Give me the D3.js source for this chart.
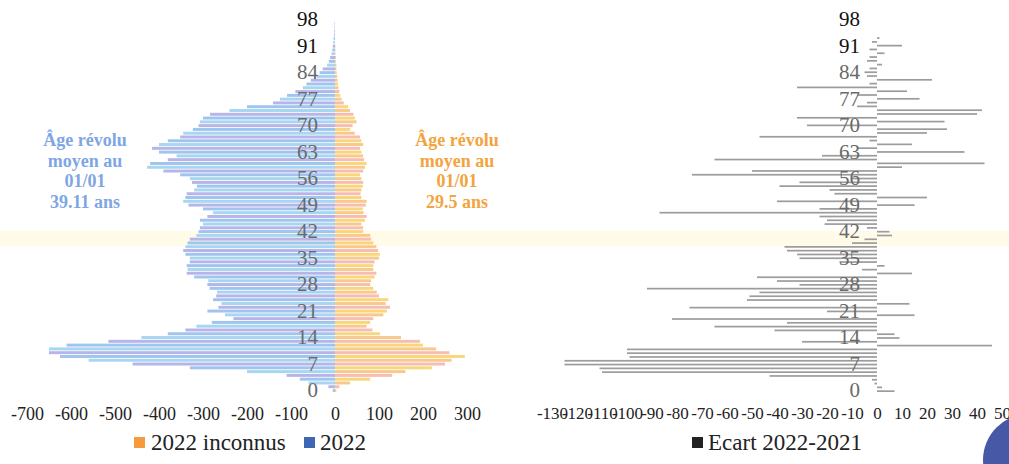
<!DOCTYPE html>
<html>
<head>
<meta charset="utf-8">
<script src="https://cdn.jsdelivr.net/npm/d3@7/dist/d3.min.js"></script>
<style>
  html, body { margin: 0; padding: 0; background: #fff; }
  svg { display: block; }
  text { font-family: "Liberation Serif", "Times New Roman", serif; }
</style>
</head>
<body>
<svg id="chart" width="1009" height="464"></svg>
<script>
// ---------- data ----------
const ages = d3.range(0, 101);
const ageTicks = [0, 7, 14, 21, 28, 35, 42, 49, 56, 63, 70, 77, 84, 91, 98];
const leftTicks = [-700, -600, -500, -400, -300, -200, -100, 0, 100, 200, 300];
const rightTicks = [-130, -120, -110, -100, -90, -80, -70, -60, -50, -40, -30, -20, -10, 0, 10, 20, 30, 40, 50];

// 2022 (left, negative side), age 0..100
const pop2022 = [
  -5, -15, -60, -80, -110, -200, -330, -460, -560, -625,
  -650, -650, -610, -515, -440, -380, -340, -315, -280, -231,
  -250, -290, -265, -258, -277, -270, -268, -285, -290, -288,
  -320, -337, -335, -337, -330, -330, -340, -345, -340, -335,
  -330, -315, -310, -307, -300, -307, -290, -277, -300, -333,
  -345, -340, -337, -320, -314, -325, -330, -352, -390, -427,
  -420, -380, -360, -400, -416, -400, -380, -352, -345, -323,
  -310, -307, -300, -284, -240, -200, -141, -125, -109, -90,
  -73, -65, -55, -41, -35, -28, -18, -14, -11, -8,
  -6, -5, -4, -3, -2, -2, -1, -1, 0, 0, 0
];
// 2022 inconnus (right side of left chart), age 0..100
const inconnus2022 = [
  3, 10, 34, 80, 130, 160, 220, 250, 265, 295,
  260, 230, 200, 193, 150, 102, 85, 72, 80, 87,
  110, 118, 125, 115, 121, 100, 95, 87, 80, 82,
  90, 94, 87, 87, 90, 100, 102, 98, 94, 87,
  82, 80, 64, 64, 60, 68, 72, 65, 63, 70,
  72, 60, 58, 60, 63, 64, 60, 57, 64, 68,
  72, 66, 64, 60, 57, 64, 60, 57, 45, 34,
  40, 49, 45, 42, 34, 30, 20, 15, 12, 10,
  8, 7, 6, 5, 4, 3, 3, 2, 2, 1,
  1, 1, 0, 0, 0, 0, 0, 0, 0, 0, 0
];
// Ecart 2022-2021, age 0..100
const ecart = [
  7, 2, -1, -2, -43, -110, -111, -125, -125, -99,
  -100, -100, 46, -30, 9, 7, -41, -65, -36, -82,
  15, -20, -75, 13, -52, -51, -47, -92, -31, -40,
  -48, 14, -6, 3, -15, -31, -32, -36, -37, -10,
  -5, 6, 5, -4, -21, -20, -23, -87, -23, 15,
  -40, 20, -17, -19, -39, -31, -10, -74, -50, 10,
  43, -65, -22, 35, -8, 14, -3, -47, 20, 28,
  -28, 27, -32, 40, 42, -8, -4, 17, -8, 12,
  -32, -3, 22, -4, -5, -3, 2, -4, -3, 3,
  -3, 10, -2, 1, 0, 0, 0, 0, 0, 0, 0
];
const leftNote = ["Âge révolu", "moyen au", "01/01", "39.11 ans"];
const rightNote = ["Âge révolu", "moyen au", "01/01", "29.5 ans"];

// ---------- drawing ----------
const svg = d3.select("#chart");

// scan artefacts
svg.append("rect").attr("x", 0).attr("y", 231).attr("width", 1009).attr("height", 15).attr("fill", "#fffbe8");

const y = d3.scaleBand().domain(ages).range([392, 392 - 101 * 3.776]).paddingInner(0.22);
const yR = d3.scaleBand().domain(ages).range([392, 392 - 101 * 3.776]).paddingInner(0.55);
const xL = d3.scaleLinear().domain([-700, 300]).range([27, 467]);
const xR = d3.scaleLinear().domain([-130, 50]).range([552, 1002]);

const blueCycle = ["#9fc4ef", "#b7b4ea", "#a6d6f0"];
const orangeCycle = ["#f9d67a", "#f7bdb3", "#f8c98a"];

// left chart bars
const gL = svg.append("g");
gL.selectAll(".b").data(ages).join("rect")
  .attr("x", d => xL(Math.min(0, pop2022[d])))
  .attr("width", d => Math.abs(xL(pop2022[d]) - xL(0)))
  .attr("y", d => y(d)).attr("height", y.bandwidth())
  .attr("fill", (d, i) => blueCycle[i % 3]);
gL.selectAll(".o").data(ages).join("rect")
  .attr("x", xL(0))
  .attr("width", d => xL(inconnus2022[d]) - xL(0))
  .attr("y", d => y(d)).attr("height", y.bandwidth())
  .attr("fill", (d, i) => orangeCycle[i % 3]);

// right chart bars
const gR = svg.append("g");
gR.selectAll("rect").data(ages).join("rect")
  .attr("x", d => xR(Math.min(0, ecart[d])))
  .attr("width", d => Math.abs(xR(ecart[d]) - xR(0)))
  .attr("y", d => yR(d)).attr("height", yR.bandwidth())
  .attr("fill", "#9c9c9c");

// age axes
function ageAxis(xPos) {
  const g = svg.append("g").attr("transform", `translate(${xPos},0)`)
    .call(d3.axisLeft(y).tickValues(ageTicks).tickSize(0).tickPadding(2));
  g.select(".domain").remove();
  g.selectAll("text")
    .attr("font-family", "Liberation Serif, serif")
    .attr("font-size", 21)
    .attr("fill", d => d >= 91 ? "#111" : "#6a6a6a");
  return g;
}
ageAxis(320);
ageAxis(862);

// value axes
function valAxis(scale, ticks, size) {
  const g = svg.append("g").attr("transform", "translate(0,400)")
    .call(d3.axisBottom(scale).tickValues(ticks).tickSize(0).tickPadding(7).tickFormat(d => String(d)));
  g.select(".domain").remove();
  g.selectAll("text")
    .attr("font-family", "Liberation Serif, serif")
    .attr("font-size", size)
    .attr("fill", "#222");
  return g;
}
valAxis(xL, leftTicks, 18);
valAxis(xR, rightTicks, 17);

// annotations
function note(lines, cx, color) {
  svg.append("g").selectAll("text").data(lines).join("text")
    .attr("x", cx).attr("y", (d, i) => 146 + i * 20.5)
    .attr("text-anchor", "middle")
    .attr("font-size", 18).attr("font-weight", "bold")
    .attr("fill", color).text(d => d);
}
note(leftNote, 85, "#7fa6e4");
note(rightNote, 457, "#f2a43e");

// legends
const leg = svg.append("g").attr("font-size", 23).attr("fill", "#222");
leg.append("rect").attr("x", 134).attr("y", 437).attr("width", 11).attr("height", 11).attr("fill", "#f59b3e");
leg.append("text").attr("x", 151).attr("y", 450).text("2022 inconnus");
leg.append("rect").attr("x", 304).attr("y", 437).attr("width", 11).attr("height", 11).attr("fill", "#3d66b4");
leg.append("text").attr("x", 320).attr("y", 450).text("2022");
leg.append("rect").attr("x", 692).attr("y", 437).attr("width", 11).attr("height", 11).attr("fill", "#222");
leg.append("text").attr("x", 708).attr("y", 450).text("Ecart 2022-2021");

// decorative corner disc from the scan
svg.append("circle").attr("cx", 1029).attr("cy", 460).attr("r", 46).attr("fill", "#4658a6");
</script>
</body>
</html>
